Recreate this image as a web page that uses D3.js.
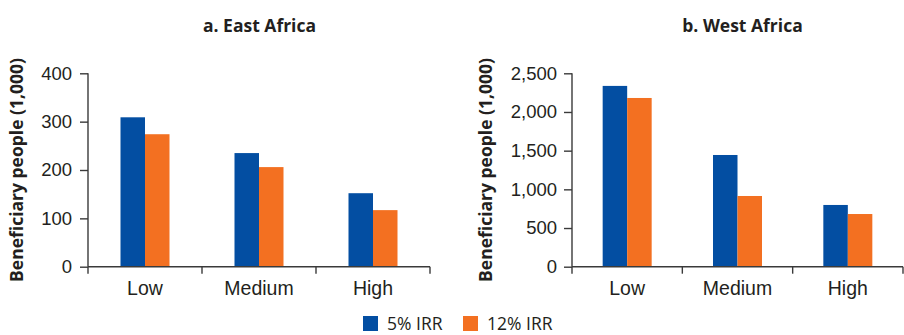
<!DOCTYPE html>
<html>
<head>
<meta charset="utf-8">
<script src="https://cdn.jsdelivr.net/npm/d3@7"></script>
<style>
  body { margin: 0; background: #fff; }
  svg { font-family: "Open Sans", "Noto Sans", sans-serif; }
  .axis path, .axis line { stroke: #3a3a3a; stroke-width: 1.4; }
  .axis text { fill: #231f20; font-size: 18.5px; }
  .x-axis text { font-size: 19.5px; }
  .panel-title { font-weight: bold; font-size: 17.5px; fill: #231f20; }
  .axis-label { font-weight: bold; font-size: 17.5px; fill: #231f20; }
  .legend text { font-size: 17.5px; fill: #231f20; }
</style>
</head>
<body>
<svg id="chart" width="904" height="335"></svg>
<script>
// DATA
const categories = ["Low", "Medium", "High"];
const seriesNames = ["5% IRR", "12% IRR"];
const seriesColors = ["#034ea2", "#f37021"];

const eastIrr5 = [309, 235, 152];
const eastIrr12 = [274, 206, 117];
const westIrr5 = [2337, 1444, 798];
const westIrr12 = [2181, 914, 681];

const eastTicks = [0, 100, 200, 300, 400];
const westTicks = [0, 500, 1000, 1500, 2000, 2500];

const svg = d3.select("#chart");

const panels = [
  { title: "a. East Africa", left: 88, right: 430, max: 400, ticks: eastTicks, values: [eastIrr5, eastIrr12], labelX: 23, titleX: 259.5, pad: 8 },
  { title: "b. West Africa", left: 572, right: 903, max: 2500, ticks: westTicks, values: [westIrr5, westIrr12], labelX: 492, titleX: 742.5, pad: 7 }
];

const plotTop = 73.3, plotBottom = 266.7;

panels.forEach(p => {
  const g = svg.append("g");

  const x = d3.scaleBand().domain(categories).range([p.left, p.right]).paddingInner(0).paddingOuter(0);
  const sub = d3.scaleBand().domain(seriesNames).range([0, 49]);
  const y = d3.scaleLinear().domain([0, p.max]).range([plotBottom, plotTop]);

  // bars
  const rows = categories.map((c, i) => ({
    cat: c,
    vals: seriesNames.map((s, j) => ({ s, j, v: p.values[j][i] }))
  }));

  g.selectAll(".grp")
    .data(rows)
    .join("g")
    .attr("class", "grp")
    .attr("transform", d => `translate(${x(d.cat) + x.bandwidth() / 2 - 24.5},0)`)
    .selectAll("rect")
    .data(d => d.vals)
    .join("rect")
    .attr("x", d => sub(d.s))
    .attr("width", sub.bandwidth())
    .attr("y", d => y(d.v))
    .attr("height", d => y(0) - y(d.v))
    .attr("fill", d => seriesColors[d.j]);

  // y axis
  g.append("g")
    .attr("class", "axis y-axis")
    .attr("transform", `translate(${p.left},0)`)
    .call(d3.axisLeft(y).tickValues(p.ticks).tickSize(8).tickSizeOuter(0).tickPadding(p.pad).tickFormat(d3.format(",")))
    .call(a => a.select(".domain").attr("d", `M0,${plotTop}V${plotBottom}`));

  // x axis
  const xa = g.append("g")
    .attr("class", "axis x-axis")
    .attr("transform", `translate(0,${plotBottom})`)
    .call(d3.axisBottom(x).tickSize(0).tickPadding(14.5));
  xa.select(".domain").attr("d", `M${p.left},0H${p.right}`);
  xa.selectAll(".sep")
    .data([p.left, ...categories.map(c => x(c) + x.bandwidth())])
    .join("line")
    .attr("class", "sep")
    .attr("x1", d => d).attr("x2", d => d)
    .attr("y1", 0).attr("y2", 7);

  // title
  g.append("text")
    .attr("class", "panel-title")
    .attr("x", p.titleX)
    .attr("y", 32)
    .attr("text-anchor", "middle")
    .text(p.title);

  // y label
  g.append("text")
    .attr("class", "axis-label")
    .attr("transform", `translate(${p.labelX},170) rotate(-90)`)
    .attr("text-anchor", "middle")
    .text("Beneficiary people (1,000)");
});

// legend
const legendPos = [363, 463];
const legend = svg.append("g").attr("class", "legend");
const items = legend.selectAll("g")
  .data(seriesNames)
  .join("g")
  .attr("transform", (d, i) => `translate(${legendPos[i]},316)`);
items.append("rect")
  .attr("width", 15).attr("height", 15)
  .attr("fill", (d, i) => seriesColors[i]);
items.append("text")
  .attr("x", 24).attr("y", 13.5)
  .text(d => d);
</script>
</body>
</html>
